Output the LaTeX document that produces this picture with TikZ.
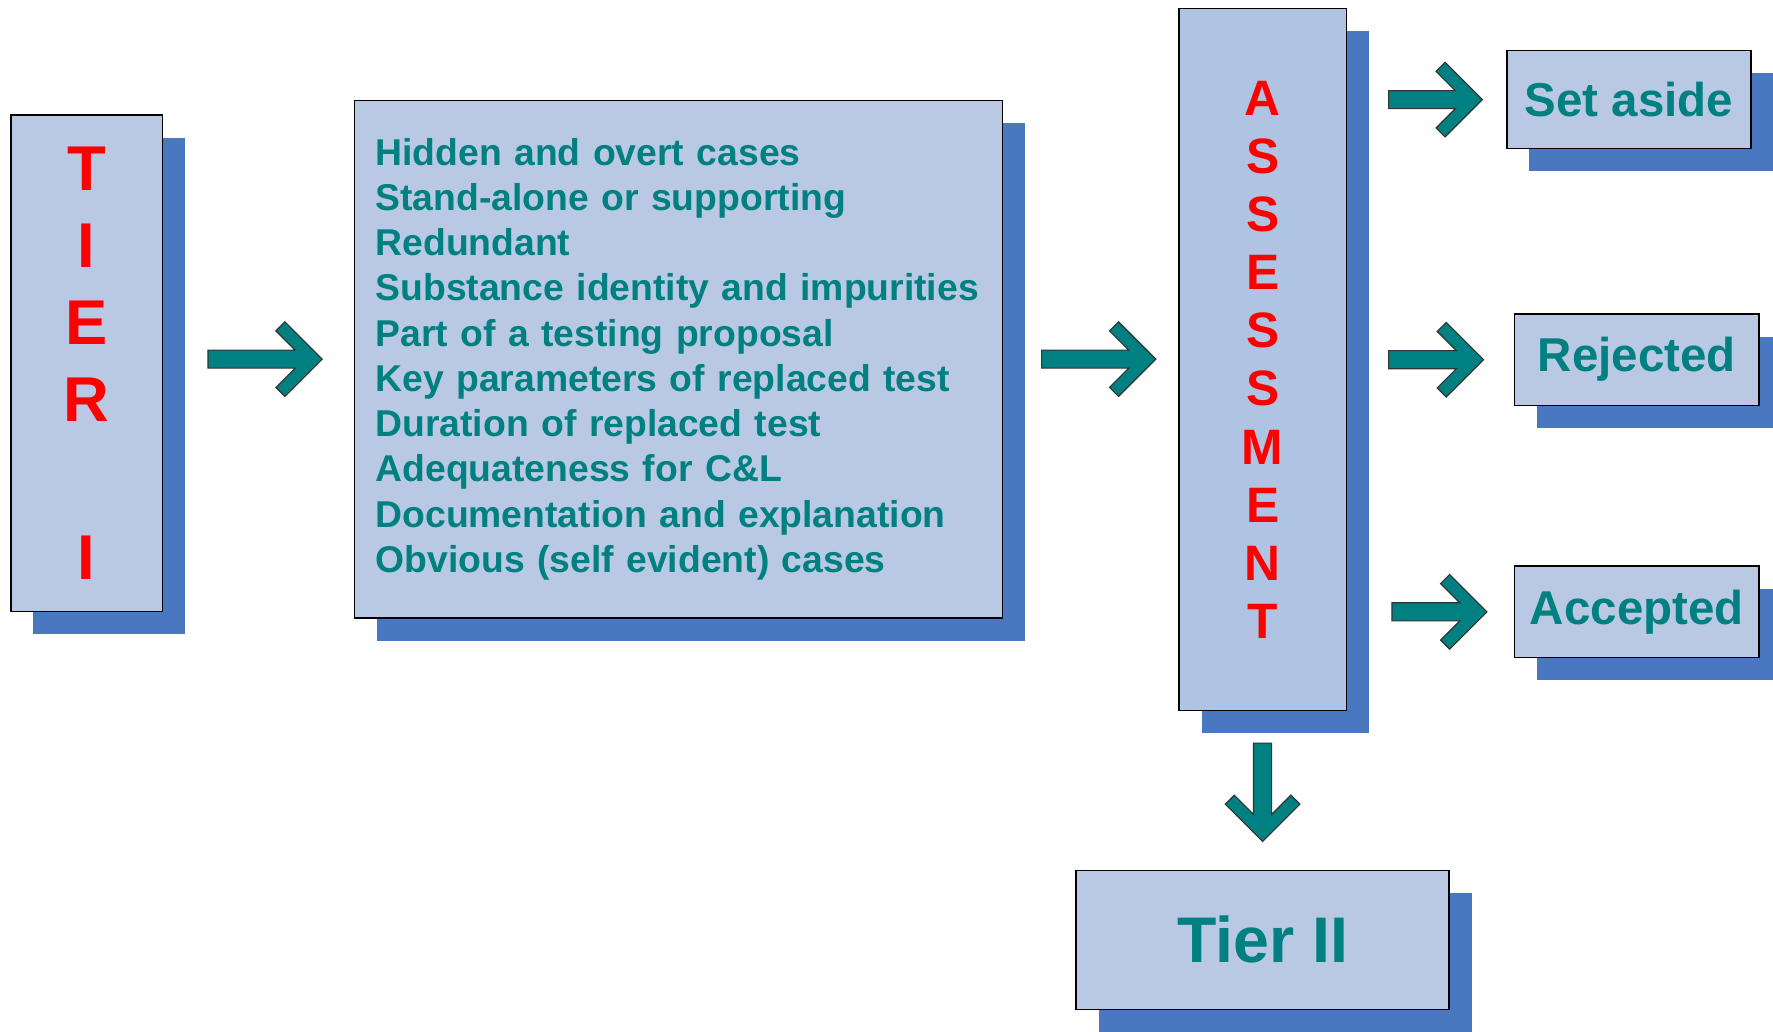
\documentclass[tikz,border=0pt]{standalone}
\usepackage{fontspec}
\setmainfont{Liberation Sans}
\usepackage{tikz}
\usetikzlibrary{shadows}
\usetikzlibrary{calc}

\definecolor{boxfill}{RGB}{185,201,227}
\definecolor{assessfill}{RGB}{175,195,227}
\definecolor{shadowblue}{RGB}{73,120,192}
\definecolor{tealtext}{RGB}{0,128,128}
\definecolor{redtext}{RGB}{255,0,0}

\tikzset{
  tierbox/.style={draw=black,line width=0.6pt,fill=boxfill,anchor=north west,inner sep=0pt,
    drop shadow={shadow xshift=10pt,shadow yshift=-10pt,fill=shadowblue,opacity=1}},
  pics/chevarrow/.style={code={
    \filldraw[fill=tealtext,draw=black!80,line width=0.5pt] (0,-8) -- ({#1-24},-8) -- ({#1-41},-25) -- ({#1-33},-33) -- (#1,0) -- ({#1-33},33) -- ({#1-41},25) -- ({#1-24},8) -- (0,8) -- cycle;
  }}
}

\begin{document}
\begin{tikzpicture}[x=0.5pt,y=-0.5pt]
\useasboundingbox (0,0) rectangle (1568,912);
\node[tierbox,minimum width=67pt,minimum height=219.5pt,align=center,text=redtext,font=\fontsize{28}{34}\selectfont\bfseries] (tierone) at (9,101) {T\\I\\E\\R\\[36pt]I};
\node[tierbox,minimum width=286.5pt,minimum height=229pt,text width=268pt,inner xsep=9.25pt,align=left,text=tealtext,font=\fontsize{16.5}{20}\selectfont\bfseries] (criteria) at (313,88) {Hidden and overt cases\\Stand-alone or supporting\\Redundant\\Substance identity and impurities\\Part of a testing proposal\\Key parameters of replaced test\\Duration of replaced test\\Adequateness for C\&L\\Documentation and explanation\\Obvious (self evident) cases};
\node[tierbox,fill=assessfill,minimum width=74pt,minimum height=310.5pt,align=center,text=redtext,font=\fontsize{22}{25.7}\selectfont\bfseries] (assess) at (1042,7) {A\\S\\S\\E\\S\\S\\M\\E\\N\\T};
\node[tierbox,minimum width=108pt,minimum height=43.5pt,text=tealtext,font=\fontsize{21}{25}\selectfont\bfseries] (setaside) at (1332,44) {Set aside};
\node[tierbox,minimum width=108pt,minimum height=40.5pt,text=tealtext,font=\fontsize{21}{25}\selectfont\bfseries] (rejected) at (1339,277) {Rejected};
\node[tierbox,minimum width=108pt,minimum height=40.5pt,text=tealtext,font=\fontsize{21}{25}\selectfont\bfseries] (accepted) at (1339,500) {Accepted};
\node[tierbox,minimum width=165pt,minimum height=61.5pt,text=tealtext,font=\fontsize{28.5}{34}\selectfont\bfseries] (tiertwo) at (951,769) {Tier II};
\pic at ($(criteria.west)+(-129,0)$) {chevarrow=101};
\pic at ($(criteria.east)+(34,0)$) {chevarrow=101};
\pic at ($(setaside.west)+(-104,0)$) {chevarrow=83};
\pic at ($(rejected.west)+(-111,0)$) {chevarrow=84};
\pic at ($(accepted.west)+(-108,0)$) {chevarrow=84};
\pic[rotate=-90] at ($(assess.south)+(0,28)$) {chevarrow=87};
\end{tikzpicture}
\end{document}
